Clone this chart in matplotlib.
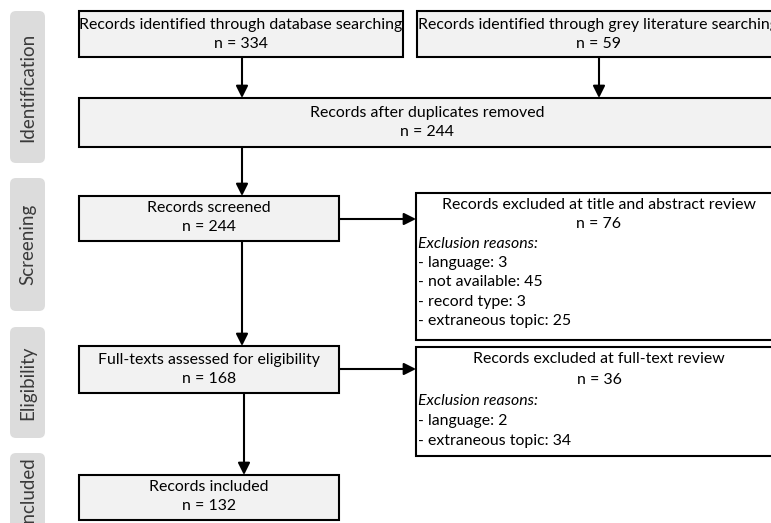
"""
PRISMA flow diagram of the record selection process
"""
import matplotlib.pyplot as plt
from matplotlib.patches import Rectangle, FancyBboxPatch

# Counts at each stage
stages = ['Identification', 'Screening', 'Eligibility', 'Included']
db_n = 334
grey_n = 59
dedup_n = 244
screened_n = 244
title_excl_n = 76
title_reasons = ['language', 'not available', 'record type', 'extraneous topic']
title_reason_n = [3, 45, 3, 25]
fulltext_n = 168
fulltext_excl_n = 36
fulltext_reasons = ['language', 'extraneous topic']
fulltext_reason_n = [2, 34]
included_n = 132

plt.rcParams['font.family'] = ['Lato', 'DejaVu Sans']
FS = 11.4
SIDE_FS = 13.5
BOX_FILL = '#f2f2f2'
SIDE_FILL = '#dcdcdc'
LW = 1.5


def box(ax, x0, y0, x1, y1, fill=BOX_FILL):
    ax.add_patch(Rectangle((x0, y0), x1 - x0, y1 - y0, facecolor=fill,
                           edgecolor='black', lw=LW, zorder=2))


def arrow(ax, x0, y0, x1, y1):
    ax.annotate('', xy=(x1, y1), xytext=(x0, y0),
                arrowprops=dict(arrowstyle='-|>', color='black', lw=LW,
                                mutation_scale=18, shrinkA=0, shrinkB=0),
                zorder=3)


def centered(ax, x, y, lines, step=19):
    for i, s in enumerate(lines):
        ax.text(x, y + i * step, s, ha='center', va='center', fontsize=FS, zorder=4)


fig = plt.figure(figsize=(7.71, 5.23), dpi=100)
ax = fig.add_axes([0, 0, 1, 1])
ax.set_xlim(0, 771)
ax.set_ylim(523, 0)
ax.axis('off')

# Stage labels on the left
side_spans = [(11, 163), (178, 311), (327, 438), (453, 560)]
for name, (y0, y1) in zip(stages, side_spans):
    ax.add_patch(FancyBboxPatch((10, y0), 35, y1 - y0,
                                boxstyle='round,pad=0,rounding_size=6',
                                facecolor=SIDE_FILL, edgecolor='none', zorder=1))
    ax.text(27.5, min((y0 + y1) / 2, 492), name, rotation=90, ha='center', va='center',
            fontsize=SIDE_FS, color='#3a3a3a', zorder=2)

# Identification
box(ax, 79, 11, 403, 57)
centered(ax, 241, 25, ['Records identified through database searching', f'n = {db_n}'])
box(ax, 417, 11, 779, 57)
centered(ax, 598, 25, ['Records identified through grey literature searching', f'n = {grey_n}'])
arrow(ax, 242, 57, 242, 98)
arrow(ax, 599, 57, 599, 98)

box(ax, 79, 98, 779, 147)
centered(ax, 427, 113, ['Records after duplicates removed', f'n = {dedup_n}'])
arrow(ax, 242, 147, 242, 196)

# Screening
box(ax, 79, 196, 339, 241)
centered(ax, 209, 208, ['Records screened', f'n = {screened_n}'])
arrow(ax, 339, 219, 416, 219)

box(ax, 416, 193, 785, 340, fill='white')
centered(ax, 599, 205, ['Records excluded at title and abstract review', f'n = {title_excl_n}'])
ax.text(418, 244, 'Exclusion reasons:', style='italic', ha='left', va='center', fontsize=FS, zorder=4)
for i, (r, n) in enumerate(zip(title_reasons, title_reason_n)):
    ax.text(418, 263 + i * 19.3, f'- {r}: {n}', ha='left', va='center', fontsize=FS, zorder=4)
arrow(ax, 242, 241, 242, 346)

# Eligibility
box(ax, 79, 346, 339, 393)
centered(ax, 209, 360, ['Full-texts assessed for eligibility', f'n = {fulltext_n}'])
arrow(ax, 339, 369, 416, 369)

box(ax, 416, 347, 785, 456, fill='white')
centered(ax, 599, 359, ['Records excluded at full-text review', f'n = {fulltext_excl_n}'], step=21)
ax.text(418, 401, 'Exclusion reasons:', style='italic', ha='left', va='center', fontsize=FS, zorder=4)
for i, (r, n) in enumerate(zip(fulltext_reasons, fulltext_reason_n)):
    ax.text(418, 421 + i * 20, f'- {r}: {n}', ha='left', va='center', fontsize=FS, zorder=4)
arrow(ax, 244, 393, 244, 475)

# Included
box(ax, 79, 475, 339, 520)
centered(ax, 209, 487, ['Records included', f'n = {included_n}'])

fig.savefig('out.png', dpi=100)
